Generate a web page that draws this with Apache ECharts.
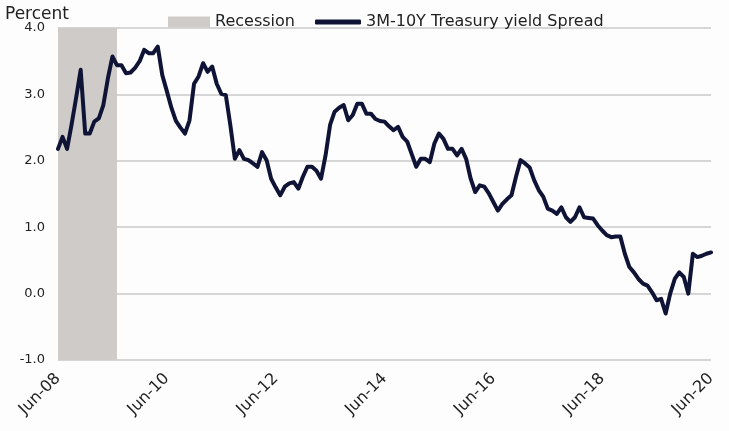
<!DOCTYPE html>
<html>
<head>
<meta charset="utf-8">
<script src="https://cdn.jsdelivr.net/npm/echarts@6/dist/echarts.min.js"></script>
<style>
html,body{margin:0;padding:0;background:#fdfdfd;}
#chart{width:729px;height:431px;}
</style>
</head>
<body>
<div id="chart"></div>
<script>
// Monthly categories Jun-2008 .. Jun-2020
var monthNames = ['Jan','Feb','Mar','Apr','May','Jun','Jul','Aug','Sep','Oct','Nov','Dec'];
var startYear = 2008, startMonth = 5, monthCount = 145;
var categories = [];
for (var i = 0; i < monthCount; i++) {
  var mm = (startMonth + i) % 12;
  var yy = startYear + Math.floor((startMonth + i) / 12);
  categories.push(monthNames[mm] + '-' + String(yy % 100).padStart(2, '0'));
}

// 3M-10Y Treasury yield spread (percent), one per month
var spreadValues = [
  2.18, 2.36, 2.18, 2.55, 2.95, 3.37, 2.41, 2.41, 2.59, 2.64, 2.84, 3.24,
  3.57, 3.44, 3.44, 3.32, 3.33, 3.40, 3.50, 3.67, 3.62, 3.62, 3.72, 3.29,
  3.05, 2.80, 2.60, 2.50, 2.41, 2.61, 3.16, 3.27, 3.47, 3.34, 3.42, 3.16,
  3.01, 2.99, 2.54, 2.03, 2.16, 2.03, 2.01, 1.96, 1.91, 2.13, 2.01, 1.73,
  1.60, 1.48, 1.61, 1.66, 1.68, 1.58, 1.76, 1.91, 1.91, 1.85, 1.73, 2.08,
  2.54, 2.74, 2.80, 2.84, 2.61, 2.69, 2.86, 2.86, 2.71, 2.71, 2.63, 2.60,
  2.59, 2.52, 2.46, 2.51, 2.36, 2.29, 2.10, 1.91, 2.03, 2.03, 1.98, 2.26,
  2.41, 2.33, 2.18, 2.18, 2.08, 2.18, 2.03, 1.73, 1.53, 1.63, 1.61, 1.51,
  1.38, 1.25, 1.35, 1.42, 1.48, 1.76, 2.01, 1.96, 1.90, 1.71, 1.56, 1.46,
  1.28, 1.25, 1.20, 1.30, 1.15, 1.08, 1.15, 1.30, 1.15, 1.14, 1.13, 1.03,
  0.95, 0.88, 0.85, 0.86, 0.86, 0.60, 0.40, 0.32, 0.22, 0.15, 0.12, 0.02,
  -0.10, -0.08, -0.30, 0.00, 0.22, 0.32, 0.25, 0.00, 0.60, 0.55, 0.57, 0.60,
  0.62
];

// Recession shading (category span)
var recessionSpan = ['Jun-08', 'Jul-09'];

// Y-axis ticks
var yTicks = { min: -1, max: 4, interval: 1 };

var seriesName = '3M-10Y Treasury yield Spread';
var recessionName = 'Recession';
var fontFam = 'DejaVu Sans';

var chart = echarts.init(document.getElementById('chart'), null, {renderer: 'canvas'});
chart.setOption({
  backgroundColor: '#fdfdfd',
  animation: false,
  title: {
    text: 'Percent', left: 0, top: 1,
    textStyle: { fontFamily: fontFam, fontSize: 17, fontWeight: 'normal', color: '#222' }
  },
  legend: [{
    left: 163, top: 9, data: [recessionName], icon: 'rect',
    itemWidth: 42, itemHeight: 11,
    textStyle: { fontFamily: fontFam, fontSize: 16, color: '#222' }
  }, {
    left: 310, top: 9, data: [seriesName], icon: 'roundRect',
    itemWidth: 46, itemHeight: 5,
    textStyle: { fontFamily: fontFam, fontSize: 16, color: '#222' }
  }],
  grid: { left: 58, right: 18, top: 28, bottom: 71 },
  xAxis: {
    type: 'category', data: categories, boundaryGap: false,
    axisLine: { show: false }, axisTick: { show: false },
    axisLabel: {
      interval: function (idx) { return idx % 24 === 0; },
      rotate: 45, margin: 16,
      fontFamily: fontFam, fontSize: 16, color: '#222'
    },
    splitLine: { show: false }
  },
  yAxis: {
    type: 'value', min: yTicks.min, max: yTicks.max, interval: yTicks.interval,
    axisLine: { show: false }, axisTick: { show: false },
    axisLabel: {
      margin: 13, fontFamily: fontFam, fontSize: 13, color: '#222',
      formatter: function (v) { return v.toFixed(1); }
    },
    splitLine: { lineStyle: { color: '#c9c9c9', width: 1.5 } }
  },
  series: [{
    name: recessionName, type: 'bar', data: [],
    itemStyle: { color: '#cfcbc9' }
  }, {
    name: seriesName, type: 'line', data: spreadValues,
    showSymbol: false, symbol: 'none',
    lineStyle: { color: '#0f1436', width: 4, join: 'round', cap: 'round' },
    itemStyle: { color: '#0f1436' },
    z: 3,
    markArea: {
      silent: true,
      itemStyle: { color: '#cfcbc9' },
      data: [[{ xAxis: recessionSpan[0] }, { xAxis: recessionSpan[1] }]]
    }
  }]
});
</script>
</body>
</html>
